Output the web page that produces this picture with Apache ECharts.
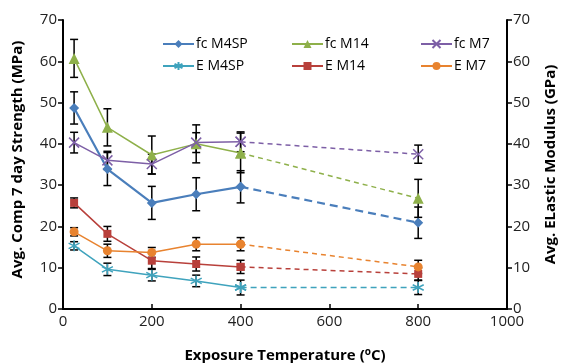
<!DOCTYPE html>
<html>
<head>
<meta charset="utf-8">
<script src="https://cdn.jsdelivr.net/npm/echarts@6/dist/echarts.min.js"></script>
<style>
  html, body { margin: 0; padding: 0; background: #fff; }
  #chart { width: 565px; height: 364px; }
</style>
</head>
<body>
<div id="chart"></div>
<script>
// exposure temperatures (ºC)
var temps = [25, 100, 200, 300, 400, 800]
var xTicks = [0, 200, 400, 600, 800, 1000]

// compressive strength (MPa), left axis
var fcM4SP = [48.7, 33.9, 25.7, 27.8, 29.6, 20.9]
var fcM4SPErr = [3.9, 4.0, 4.0, 4.0, 3.9, 3.8]
var fcM14 = [60.7, 44.0, 37.3, 40.0, 37.8, 26.8]
var fcM14Err = [4.6, 4.5, 4.6, 4.6, 4.8, 4.6]
var fcM7 = [40.3, 36.0, 35.1, 40.3, 40.5, 37.5]
var fcM7Err = [2.5, 2.2, 2.4, 2.4, 2.4, 2.2]

// elastic modulus (GPa), right axis
var eM4SP = [15.3, 9.6, 8.2, 6.8, 5.2, 5.2]
var eM4SPErr = [1.0, 1.5, 1.4, 1.4, 1.8, 1.7]
var eM14 = [25.7, 18.2, 11.7, 10.9, 10.2, 8.5]
var eM14Err = [1.2, 1.8, 1.9, 1.7, 1.6, 1.5]
var eM7 = [18.7, 14.1, 13.7, 15.7, 15.7, 10.2]
var eM7Err = [1.0, 1.6, 1.2, 1.6, 1.6, 1.6]

var starPath = 'path://M0,-5L0,5M-4.33,-2.5L4.33,2.5M-4.33,2.5L4.33,-2.5'
var crossPath = 'path://M-4,-4L4,4M-4,4L4,-4'

var defs = [
  { name: 'fc M4SP', vals: fcM4SP, err: fcM4SPErr, color: '#4a7ebb', symbol: 'diamond', size: 10, axis: 0, dash: [8, 5], width: 2.2 },
  { name: 'fc M14', vals: fcM14, err: fcM14Err, color: '#8eb04a', symbol: 'triangle', size: 11, axis: 0, dash: [5, 4], width: 1.5 },
  { name: 'fc M7', vals: fcM7, err: fcM7Err, color: '#7d5fa6', symbol: crossPath, size: 10, axis: 0, dash: [5, 4], width: 1.5, stroke: true },
  { name: 'E M4SP', vals: eM4SP, err: eM4SPErr, color: '#3fa3bd', symbol: starPath, size: 11, axis: 1, dash: [6, 4], width: 1.5, stroke: true },
  { name: 'E M14', vals: eM14, err: eM14Err, color: '#b8403b', symbol: 'rect', size: 8, axis: 1, dash: [5, 4], width: 1.5 },
  { name: 'E M7', vals: eM7, err: eM7Err, color: '#e8832f', symbol: 'circle', size: 9, axis: 1, dash: [5, 4], width: 1.5 }
]

function errorBars(d) {
  var data = temps.map(function(t, i) {
    return [t, d.vals[i] - d.err[i], d.vals[i] + d.err[i]]
  })
  return {
    type: 'custom',
    yAxisIndex: d.axis,
    silent: true,
    z: 1,
    data: data,
    renderItem: function(params, api) {
      var lo = api.coord([api.value(0), api.value(1)])
      var hi = api.coord([api.value(0), api.value(2)])
      var w = 4
      var st = { stroke: '#000', lineWidth: 1.5 }
      return {
        type: 'group',
        children: [
          { type: 'line', shape: { x1: lo[0], y1: lo[1], x2: hi[0], y2: hi[1] }, style: st },
          { type: 'line', shape: { x1: lo[0] - w, y1: lo[1], x2: lo[0] + w, y2: lo[1] }, style: st },
          { type: 'line', shape: { x1: hi[0] - w, y1: hi[1], x2: hi[0] + w, y2: hi[1] }, style: st }
        ]
      }
    }
  }
}

var series = []
defs.forEach(function(d) { series.push(errorBars(d)) })
defs.forEach(function(d) {
  var pts = temps.map(function(t, i) { return [t, d.vals[i]] })
  var item = { color: d.color }
  if (d.stroke) {
    item = { color: 'none', borderColor: d.color, borderWidth: 1.5 }
  }
  // dashed part 400 -> 800
  series.push({
    name: d.name + ' (800)',
    type: 'line',
    yAxisIndex: d.axis,
    z: 2,
    data: pts.slice(4),
    symbol: d.symbol,
    symbolSize: d.size,
    itemStyle: item,
    lineStyle: { color: d.color, width: d.width, type: d.dash },
    emphasis: { disabled: true }
  })
  series.push({
    name: d.name,
    type: 'line',
    yAxisIndex: d.axis,
    z: 3,
    data: pts.slice(0, 5),
    symbol: d.symbol,
    symbolSize: d.size,
    itemStyle: item,
    lineStyle: { color: d.color, width: d.width },
    emphasis: { disabled: true }
  })
})

function legendCol(left, names) {
  return {
    left: left,
    top: 32,
    orient: 'vertical',
    itemWidth: 31,
    itemHeight: 10,
    itemGap: 8,
    data: names,
    selectedMode: false,
    textStyle: { fontFamily: 'Open Sans', fontSize: 14, color: '#000', padding: [0, 0, 0, -3] }
  }
}

var yAxisBase = {
  type: 'value',
  min: 0,
  max: 70,
  interval: 10,
  splitLine: { show: false },
  axisLine: { show: true, lineStyle: { color: '#000', width: 2 } },
  axisTick: { show: true, inside: false, length: 5, lineStyle: { color: '#000', width: 1.5 } },
  axisLabel: { fontFamily: 'Open Sans', fontSize: 15, color: '#222', margin: 6 },
  nameLocation: 'middle',
  nameRotate: 90
}

var chart = echarts.init(document.getElementById('chart'))
chart.setOption({
  animation: false,
  backgroundColor: '#fff',
  legend: [
    legendCol(157, ['fc M4SP', 'E M4SP']),
    legendCol(286, ['fc M14', 'E M14']),
    legendCol(415, ['fc M7', 'E M7'])
  ],
  grid: { left: 63, right: 58, top: 20, bottom: 55, outerBoundsMode: 'none' },
  xAxis: {
    type: 'value',
    min: xTicks[0],
    max: xTicks[xTicks.length - 1],
    interval: xTicks[1] - xTicks[0],
    splitLine: { show: false },
    axisLine: { lineStyle: { color: '#000', width: 2 } },
    axisTick: { show: true, inside: true, length: 5, lineStyle: { color: '#000', width: 1.5 } },
    axisLabel: { fontFamily: 'Open Sans', fontSize: 15, color: '#222', margin: 5, formatter: function(v) { return String(v) } },
    name: '{a|Exposure Temperature (}{s|o}{a|C)}',
    nameLocation: 'middle',
    nameGap: 38,
    nameTextStyle: {
      rich: {
        a: { fontFamily: 'Open Sans', fontSize: 15, fontWeight: 'bold', color: '#000' },
        s: { fontFamily: 'Open Sans', fontSize: 10, fontWeight: 'bold', color: '#000', verticalAlign: 'top', padding: [0, 0, 8, 0] }
      }
    }
  },
  yAxis: [
    Object.assign({}, yAxisBase, {
      position: 'left',
      name: 'Avg. Comp 7 day Strength (MPa)',
      nameGap: 38,
      nameTextStyle: { fontFamily: 'Open Sans', fontSize: 15, fontWeight: 'bold', color: '#000', padding: [0, 0, 0, 10] }
    }),
    Object.assign({}, yAxisBase, {
      position: 'right',
      name: 'Avg. ELastic Modulus (GPa)',
      nameGap: 36,
      nameTextStyle: { fontFamily: 'Open Sans', fontSize: 15, fontWeight: 'bold', color: '#000' }
    })
  ],
  series: series
})
</script>
</body>
</html>
